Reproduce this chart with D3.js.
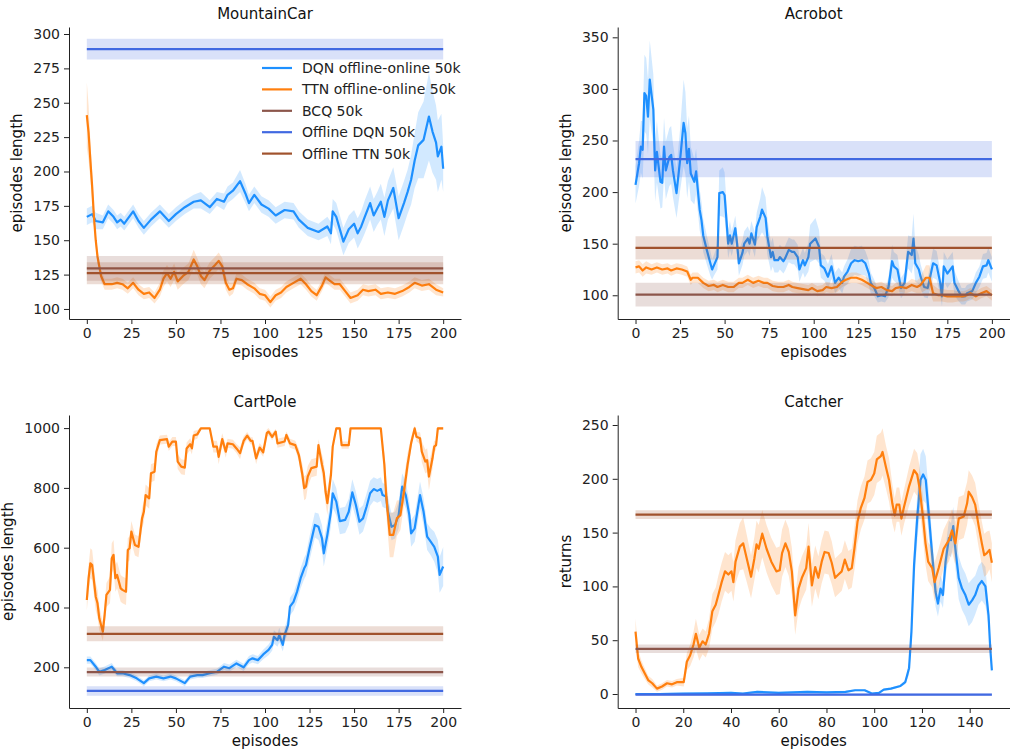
<!DOCTYPE html>
<html>
<head>
<meta charset="utf-8">
<script src="https://cdn.jsdelivr.net/npm/d3@7"></script>
<style>
body { margin: 0; background: #fff; }
</style>
</head>
<body>
<div id="chart"></div>
<script>
var seriesNames = ['DQN offline-online 50k', 'TTN offline-online 50k', 'BCQ 50k', 'Offline DQN 50k', 'Offline TTN 50k'];
var seriesColors = ['#1e90ff', '#ff7f0e', '#8c564b', '#4169e1', '#a0522d'];

// each point: [episode, mean, half width of the band]
var mcDqn = [[0,167,6],[3,169,6],[5,164,6],[9,163,5],[12,171,5],[15,167,5],[17,163,5],[19,165,5],[21,162,5],[26,171,5],[29,164,5],[32,159,5],[36,165,5],[41,171,5],[46,164,5],[50,169,5],[55,174,5],[60,178,5],[64,179,6],[69,174,5],[73,180,5],[77,178,6],[79,183,6],[82,186,6],[86,193,8],[89,184,7],[91,177,6],[94,183,6],[98,176,6],[102,173,6],[106,168,6],[111,172,6],[116,171,6],[119,165,6],[124,159,6],[130,156,6],[135,160,7],[137,155,8],[138,171,9],[140,167,10],[144,149,10],[147,158,10],[150,162,10],[152,155,11],[154,160,11],[156,167,12],[159,177,12],[161,168,12],[163,173,12],[165,178,13],[167,167,14],[169,179,14],[172,188,15],[175,166,16],[178,177,16],[180,185,16],[182,194,18],[184,208,20],[186,219,24],[189,223,28],[192,240,32],[194,229,30],[196,221,27],[197,211,26],[199,218,24],[200,202,17]];
var mcTtn = [[0,241,24],[1,228,20],[2,208,14],[3,189,10],[4,167,7],[5,150,5],[6,138,5],[7,131,4],[8,124,4],[10,118,4],[14,118,4],[17,119,4],[20,118,4],[23,115,4],[26,119,4],[29,114,4],[32,111,4],[35,112,4],[38,108,4],[41,114,5],[43,122,6],[45,126,6],[47,122,6],[49,127,6],[51,120,6],[54,124,6],[57,127,6],[60,136,7],[62,131,6],[64,124,6],[66,121,6],[69,128,6],[72,132,6],[74,135,6],[76,131,6],[78,119,5],[80,114,5],[82,115,4],[84,122,4],[87,121,4],[90,118,4],[94,115,4],[97,111,4],[100,110,4],[103,105,4],[106,110,4],[109,112,4],[112,116,4],[116,119,4],[120,122,4],[123,118,4],[126,113,4],[129,110,4],[132,117,4],[134,123,4],[136,121,4],[139,118,4],[142,118,4],[145,113,4],[148,108,4],[152,110,4],[155,114,4],[158,113,4],[162,114,4],[165,111,4],[169,112,4],[173,111,4],[177,113,4],[181,116,4],[184,119,4],[188,117,4],[192,118,4],[196,114,4],[200,112,3]];
// flat baselines: [mean, half width] for BCQ, Offline DQN, Offline TTN
var mcFlat = [[129.5, 9], [289, 7.5], [126, 8]];

var acDqn = [[0,207,18],[2,228,22],[3,244,25],[4,241,28],[5,296,37],[6,293,37],[7,273,36],[8,309,38],[10,280,34],[11,221,30],[12,239,30],[14,210,26],[15,209,24],[16,244,28],[17,221,28],[19,234,28],[20,236,28],[21,221,26],[23,199,24],[25,231,30],[27,267,42],[28,257,40],[29,228,34],[30,242,32],[31,218,26],[33,210,22],[34,220,22],[36,183,20],[37,173,18],[38,158,16],[40,144,14],[42,131,12],[43,125,10],[44,129,10],[46,137,12],[47,199,22],[49,200,24],[50,197,22],[52,150,14],[53,158,14],[54,150,12],[56,165,12],[57,150,12],[58,131,12],[60,141,12],[61,150,12],[63,155,12],[64,150,12],[65,160,12],[67,149,12],[68,166,14],[70,176,18],[71,183,22],[73,175,20],[74,157,18],[76,137,14],[77,142,14],[78,134,12],[80,134,12],[81,137,12],[83,133,12],[84,136,12],[86,144,12],[88,142,12],[89,142,12],[91,137,12],[92,125,12],[94,134,12],[95,129,12],[97,137,14],[98,150,18],[101,155,20],[103,147,16],[104,129,12],[106,126,12],[108,118,12],[110,128,12],[112,112,10],[114,117,10],[116,112,10],[117,118,10],[119,123,12],[121,131,14],[123,134,14],[125,133,14],[127,134,14],[129,131,12],[131,121,12],[132,112,10],[134,107,8],[136,99,6],[138,100,6],[140,99,6],[142,108,10],[144,133,16],[145,128,14],[147,125,14],[149,107,10],[151,112,10],[153,142,16],[155,139,18],[156,155,24],[157,131,18],[159,125,14],[160,118,12],[162,108,10],[164,107,10],[167,131,14],[169,129,14],[171,112,12],[172,99,10],[173,128,14],[175,121,14],[178,128,14],[179,112,12],[181,105,10],[183,99,8],[185,99,8],[186,102,8],[189,104,8],[191,112,10],[193,118,10],[195,128,12],[197,129,12],[198,134,12],[200,125,12]];
var acTtn = [[0,127,6],[2,128,6],[4,124,6],[6,127,6],[9,125,5],[12,127,5],[15,125,5],[18,126,5],[20,124,5],[23,126,5],[26,125,5],[29,123,5],[31,115,5],[32,117,5],[35,117,5],[38,112,5],[41,109,5],[44,110,5],[46,108,5],[49,110,5],[52,108,5],[55,108,5],[58,112,5],[60,112,5],[63,115,5],[66,112,5],[69,114,5],[72,112,5],[74,112,5],[77,109,5],[80,108,5],[83,108,5],[86,110,5],[88,108,5],[91,107,5],[94,106,5],[97,105,5],[99,107,5],[102,104,5],[105,105,5],[107,108,5],[110,107,5],[113,108,5],[116,113,5],[118,115,5],[121,117,5],[124,117,5],[127,115,5],[130,112,5],[132,110,5],[135,107,5],[138,108,5],[141,105,5],[144,104,5],[146,107,5],[149,108,5],[152,107,5],[155,110,6],[158,108,6],[160,110,8],[163,117,12],[165,117,12],[167,102,8],[170,100,6],[172,100,6],[175,99,6],[178,99,6],[181,99,5],[184,99,5],[186,100,5],[188,102,5],[191,99,5],[194,102,5],[197,104,5],[200,100,5]];
var acFlat = [[100.6, 11.5], [232, 17.6], [146, 11.3]];

var cpDqn = [[0,224,12],[2,224,12],[5,202,12],[7,185,12],[10,191,12],[14,202,12],[17,180,10],[20,180,10],[24,174,10],[28,163,10],[32,147,10],[35,163,10],[39,169,10],[43,163,10],[47,169,10],[50,163,10],[55,147,10],[58,169,10],[62,174,10],[65,174,10],[69,180,10],[73,185,10],[77,202,12],[80,197,12],[84,213,12],[88,200,12],[91,224,14],[93,230,14],[96,224,14],[99,243,16],[102,258,18],[104,275,20],[105,302,22],[107,291,22],[108,308,24],[110,275,22],[111,308,24],[113,342,26],[114,403,30],[116,419,30],[118,453,32],[120,498,34],[122,531,36],[123,542,36],[125,598,40],[128,676,42],[130,670,44],[132,631,44],[133,581,44],[135,643,46],[137,720,48],[138,782,48],[140,754,46],[142,689,44],[145,693,44],[147,720,44],[149,785,44],[151,743,44],[153,687,44],[155,698,44],[157,737,44],[159,782,42],[161,796,40],[163,790,40],[165,796,40],[166,776,40],[168,771,40],[169,720,45],[171,670,45],[173,676,45],[175,709,45],[177,804,45],[179,776,45],[181,709,45],[182,648,45],[184,665,45],[187,776,45],[189,720,45],[191,637,45],[193,620,45],[195,603,50],[197,570,55],[198,509,60],[200,537,65]];
var cpTtn = [[0,425,35],[1,498,45],[2,548,50],[3,542,50],[5,436,45],[6,414,45],[7,364,40],[9,319,30],[10,375,35],[11,442,40],[13,459,45],[14,565,50],[15,576,50],[16,498,45],[17,509,45],[19,464,45],[20,459,45],[22,453,45],[23,592,40],[24,598,40],[25,654,35],[27,609,35],[29,603,35],[31,698,35],[32,720,35],[33,776,35],[35,765,35],[36,849,30],[38,854,30],[39,921,25],[41,960,15],[45,963,15],[46,938,15],[48,955,15],[50,955,15],[51,888,25],[53,871,25],[55,868,25],[56,932,20],[58,946,20],[59,932,20],[60,975,15],[62,979,15],[64,999,2],[69,999,2],[71,938,20],[73,938,20],[74,904,25],[76,963,20],[78,921,20],[79,949,15],[82,946,15],[84,932,15],[86,916,20],[88,957,15],[90,975,12],[92,957,12],[93,957,12],[95,899,20],[97,935,15],[99,919,15],[101,983,12],[102,988,12],[104,971,12],[106,988,10],[107,949,15],[111,955,15],[112,977,12],[114,949,15],[117,943,15],[119,910,20],[121,843,35],[122,799,40],[123,804,40],[124,838,35],[126,866,30],[129,871,30],[130,943,20],[132,877,35],[133,849,40],[134,787,40],[135,749,40],[137,843,30],[138,938,20],[140,999,5],[142,999,5],[143,943,12],[147,943,12],[148,999,2],[165,999,2],[167,877,40],[168,776,60],[170,643,75],[172,643,75],[174,698,60],[176,709,50],[178,787,45],[180,877,40],[182,949,20],[184,999,10],[185,971,15],[187,966,20],[188,921,35],[190,888,40],[191,893,40],[192,838,45],[194,899,35],[195,938,20],[196,943,15],[197,999,5],[200,999,5]];
var cpFlat = [[184, 15], [121, 16], [312, 25]];

var catDqn = [[0,0,1],[10,0,1],[20,0.3,1],[30,0.5,1],[40,1,1],[45,0.5,1],[51,2,1],[60,1,1],[72,2,1],[80,1.5,1],[88,2,1],[92,3.5,1],[96,3.5,1],[99,0.5,1],[102,1,1],[104,4,1],[107,5,1],[111,7.5,1],[113,11,2],[114.6,24,6],[115.6,58,12],[116.7,120,18],[118.1,166,22],[119.4,199,24],[120.5,204,24],[121.6,199,22],[122.9,166,20],[124.3,129,16],[125.7,95,14],[126.7,84,12],[127.8,98,12],[128.8,92,12],[129.9,123,14],[131.3,145,16],[132.2,143,16],[133.1,156,18],[134,135,18],[135.4,108,20],[136.8,98,20],[138.2,92,20],[139.6,83,20],[141,87,20],[142.3,92,18],[143.7,101,18],[145.1,105,18],[146.6,100,18],[147.9,73,10],[148.6,43,4],[149.3,22,2]];
var catTtn = [[0,58,12],[1.1,33,8],[2.5,25,6],[3.9,19,5],[5.3,13,4],[7,10,4],[9,5,3],[11.1,7,3],[13.2,10,3],[15.3,9,3],[17.3,11,3],[20.2,11,4],[21.5,30,8],[22.9,36,10],[24.3,46,12],[25.3,56,14],[26.7,43,12],[28.1,49,12],[29.4,46,12],[30.8,56,14],[32.2,77,16],[33.6,83,16],[34.7,92,18],[36.1,104,18],[37.5,114,18],[38.9,111,18],[40.2,114,18],[41,104,18],[41.9,123,20],[43.7,137,22],[45.1,140,24],[46.6,126,22],[48.4,109,20],[49.8,126,20],[50.7,139,22],[51.6,135,22],[53.1,149,22],[54.9,135,22],[56.9,123,22],[59,114,22],[60.4,115,22],[61.4,131,22],[62.8,140,22],[64.2,132,22],[65.5,114,22],[66.9,73,18],[68.3,98,20],[69.7,108,20],[71.5,117,20],[72.5,137,22],[73.9,101,20],[75.3,118,20],[76.6,108,20],[78,123,20],[79.2,132,20],[80.9,131,20],[82.2,122,20],[83.6,108,18],[85,111,18],[86.4,114,18],[87.7,125,18],[89.2,115,18],[90.6,117,18],[91.7,135,20],[93,160,20],[94.4,173,20],[95.9,182,20],[97.2,197,20],[98.6,199,20],[100,205,20],[101.1,218,22],[102.8,221,22],[103.5,225,22],[104.9,211,20],[106.2,199,20],[107.6,177,18],[108.6,166,16],[109.4,176,16],[110.5,176,16],[111.4,163,16],[112.5,174,16],[114.6,193,18],[116.7,208,20],[118,204,20],[119.1,190,20],[120.5,163,20],[121.5,140,20],[122.6,123,18],[124.3,117,18],[125.3,104,18],[127,117,18],[129.1,135,18],[131.3,143,20],[132.6,152,20],[134,140,20],[135.4,163,20],[137.5,165,20],[138.9,177,20],[139.6,188,20],[141,183,20],[142.3,176,20],[143.7,157,20],[145.1,140,20],[146.1,129,20],[147.2,131,20],[148.3,134,18],[149.3,122,18]];
var catFlat = [[42, 4], [-0.5, 1], [166.7, 4]];

var panels = [
    {title: 'MountainCar', ylabel: 'episodes length', left: 69, top: 27, h: 292, xMax: 200,
     yDomain: [92.7, 305.1], xTicks: d3.range(0, 201, 25), yTicks: d3.range(100, 301, 25),
     online: [mcDqn, mcTtn], flat: mcFlat, legend: true},
    {title: 'Acrobot', ylabel: 'episodes length', left: 617.7, top: 27, h: 292, xMax: 200,
     yDomain: [77, 360], xTicks: d3.range(0, 201, 25), yTicks: d3.range(100, 351, 50),
     online: [acDqn, acTtn], flat: acFlat},
    {title: 'CartPole', ylabel: 'episodes length', left: 69, top: 415, h: 293, xMax: 200,
     yDomain: [63.9, 1043.8], xTicks: d3.range(0, 201, 25), yTicks: d3.range(200, 1001, 200),
     online: [cpDqn, cpTtn], flat: cpFlat},
    {title: 'Catcher', ylabel: 'returns', left: 617.7, top: 415, h: 293, xMax: 149.3,
     yDomain: [-13, 259.3], xTicks: d3.range(0, 141, 20), yTicks: d3.range(0, 251, 50),
     online: [catDqn, catTtn], flat: catFlat}
];
var axW = 392;

var svg = d3.select('#chart').append('svg')
    .attr('width', 1010)
    .attr('height', 750)
    .style('font-family', '"DejaVu Sans", sans-serif');

panels.forEach(function(p) {
    var x = d3.scaleLinear().domain([-0.05 * p.xMax, 1.05 * p.xMax]).range([p.left, p.left + axW]);
    var y = d3.scaleLinear().domain(p.yDomain).range([p.top + p.h, p.top]);
    var g = svg.append('g');

    var band = d3.area()
        .x(function(d) { return x(d[0]); })
        .y0(function(d) { return y(d[1] - d[2]); })
        .y1(function(d) { return y(d[1] + d[2]); });
    var line = d3.line()
        .x(function(d) { return x(d[0]); })
        .y(function(d) { return y(d[1]); });

    // online curves first, the flat offline results on top
    var all = p.online.concat(p.flat.map(function(f) {
        return [[0, f[0], f[1]], [p.xMax, f[0], f[1]]];
    }));
    all.forEach(function(s, i) {
        g.append('path').datum(s)
            .attr('d', band)
            .attr('fill', seriesColors[i])
            .attr('fill-opacity', 0.2);
        g.append('path').datum(s)
            .attr('d', line)
            .attr('fill', 'none')
            .attr('stroke', seriesColors[i])
            .attr('stroke-width', 2.2)
            .attr('stroke-linejoin', 'round');
    });

    var xAxis = g.append('g')
        .attr('transform', 'translate(0,' + (p.top + p.h) + ')')
        .call(d3.axisBottom(x).tickValues(p.xTicks).tickFormat(d3.format('d'))
            .tickSize(5).tickPadding(4).tickSizeOuter(0));
    var yAxis = g.append('g')
        .attr('transform', 'translate(' + p.left + ',0)')
        .call(d3.axisLeft(y).tickValues(p.yTicks).tickFormat(d3.format('d'))
            .tickSize(5).tickPadding(4).tickSizeOuter(0));
    [xAxis, yAxis].forEach(function(a) {
        a.selectAll('text').attr('font-size', '14px').attr('fill', '#222').style('font-family', '"DejaVu Sans", sans-serif');
        a.selectAll('line').attr('stroke', '#222');
        a.select('.domain').attr('stroke', '#222');
    });

    var maxW = 0;
    yAxis.selectAll('text').each(function() { maxW = Math.max(maxW, this.getBBox().width); });

    g.append('text')
        .attr('x', p.left + axW / 2)
        .attr('y', p.top - 8)
        .attr('text-anchor', 'middle')
        .attr('font-size', '15px')
        .attr('fill', '#111')
        .text(p.title);

    g.append('text')
        .attr('x', x(p.xMax / 2))
        .attr('y', p.top + p.h + 38)
        .attr('text-anchor', 'middle')
        .attr('font-size', '15px')
        .attr('fill', '#111')
        .text('episodes');

    g.append('text')
        .attr('transform', 'translate(' + (p.left - 20 - maxW) + ',' + (p.top + p.h / 2) + ') rotate(-90)')
        .attr('text-anchor', 'middle')
        .attr('font-size', '15px')
        .attr('fill', '#111')
        .text(p.ylabel);

    if (p.legend) {
        var lg = g.append('g');
        seriesNames.forEach(function(name, i) {
            var ly = 68 + i * 21.4;
            lg.append('line')
                .attr('x1', 262).attr('x2', 292)
                .attr('y1', ly).attr('y2', ly)
                .attr('stroke', seriesColors[i])
                .attr('stroke-width', 2.2);
            lg.append('text')
                .attr('x', 302)
                .attr('y', ly + 5)
                .attr('font-size', '14px')
                .attr('fill', '#222')
                .text(name);
        });
    }
});
</script>
</body>
</html>
